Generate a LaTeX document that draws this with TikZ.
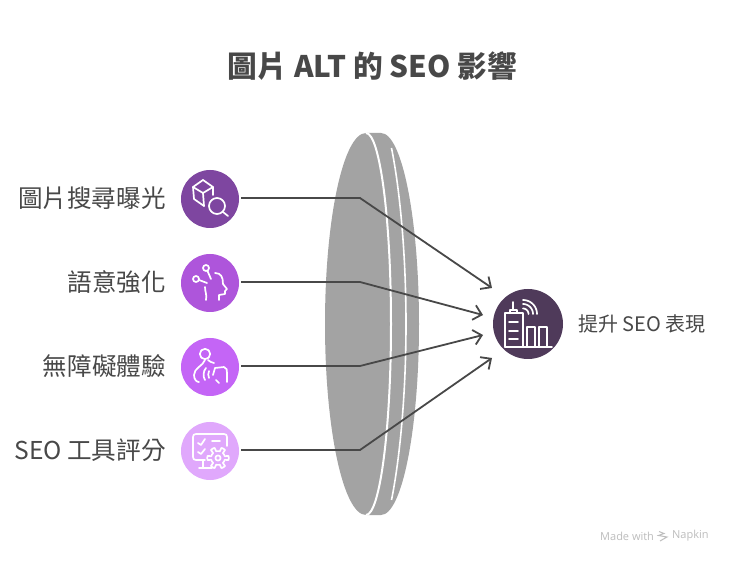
\documentclass[tikz,border=0pt]{standalone}
\usepackage{fontspec}
\setmainfont{Noto Sans CJK TC}
\newfontfamily\wmfont{Open Sans}
\usetikzlibrary{arrows.meta}
\definecolor{ink}{HTML}{484848}
\definecolor{disc}{HTML}{A3A3A3}
\definecolor{cA}{HTML}{7E46A0}
\definecolor{cB}{HTML}{AE55DB}
\definecolor{cC}{HTML}{C465F6}
\definecolor{cD}{HTML}{E0A8FC}
\definecolor{hubc}{HTML}{4F3A5A}
\definecolor{wm}{HTML}{BDBDBD}
\tikzset{
  badge/.style={circle,inner sep=0pt,minimum size=58pt,fill=#1},
  label/.style={text=ink,anchor=east,inner sep=0pt,font=\fontsize{24.6}{27}\selectfont},
  conn/.style={draw=ink,line width=1.8pt,-{Straight Barb[length=8pt,width=15pt,line width=1.8pt]}},
  icon/.style={draw=white,line width=1.7pt,line cap=round,line join=round},
}
\begin{document}
\begin{tikzpicture}[x=1pt,y=-1pt]
\useasboundingbox[fill=white] (0,0) rectangle (732,564);
% title
\node[text=ink,font=\fontsize{29.7}{33}\selectfont\bfseries,inner sep=0pt] (title) at (372.5,66) {圖片 ALT 的 SEO 影響};
% disc
\fill[disc] (366,133) .. controls (343.4,133) and (325,218.5) .. (325,324)
  .. controls (325,429.5) and (343.4,515) .. (366,515) -- (381,515)
  .. controls (402,515) and (419,429.5) .. (419,324)
  .. controls (419,218.5) and (402,133) .. (381,133) -- cycle;
\draw[white,line width=2pt] (366,133) .. controls (379.8,133) and (391,218.5) .. (391,324)
  .. controls (391,429.5) and (379.8,515) .. (366,515);
\draw[white,line width=1.6pt] (391.5,148) .. controls (400,190) and (406,255) .. (406,324)
  .. controls (406,393) and (400,458) .. (391.5,500);
% badges
\node[badge=cA] (n1) at (210,199) {};
\node[badge=cB] (n2) at (210,283) {};
\node[badge=cC] (n3) at (210,367) {};
\node[badge=cD] (n4) at (210,451) {};
\node[circle,inner sep=0pt,minimum size=70pt,fill=hubc] (hub) at (528,324) {};
% labels
\node[label] (l1) at (166,198) {圖片搜尋曝光};
\node[label] (l2) at (166,282) {語意強化};
\node[label] (l3) at (166,366) {無障礙體驗};
\node[label] (l4) at (166,450) {SEO 工具評分};
\node[text=ink,anchor=west,inner sep=0pt,font=\fontsize{20}{22}\selectfont] (res) at (578,324) {提升 SEO 表現};
% connector points
\coordinate (b1) at (360,198); \coordinate (b2) at (360,282);
\coordinate (b3) at (360,366); \coordinate (b4) at (360,450);
\coordinate (t1) at (492,288); \coordinate (t2) at (483,315);
\coordinate (t3) at (483,335); \coordinate (t4) at (492,358);
\draw[conn] ([shift={(2,-1)}]n1.east) -- (b1) -- (t1);
\draw[conn] ([shift={(2,-1)}]n2.east) -- (b2) -- (t2);
\draw[conn] ([shift={(2,-1)}]n3.east) -- (b3) -- (t3);
\draw[conn] ([shift={(2,-1)}]n4.east) -- (b4) -- (t4);
% icon 1: cube and lens
\begin{scope}[shift={(n1.center)},icon]
  \draw (-7,-19) -- (-17,-12) -- (-16,0) -- (-6,7);
  \draw (-7,-19) -- (3,-12) -- (3,-4);
  \draw (-17,-12) -- (-7,-6) -- (3,-12);
  \draw (-7,-6) -- (-6,7);
  \draw (7,7) circle (8);
  \draw (13,13) -- (18,17);
\end{scope}
% icon 2: head with nodes
\begin{scope}[shift={(n2.center)},icon]
  \draw (-4,-15) circle (3);
  \draw (-14,-4) circle (3);
  \draw (-2.5,-12) -- (1,-4);
  \draw (-11,-3) -- (-3,0);
  \draw (-5,4) .. controls (-5,9) and (-3,11) .. (-4,17);
  \draw (5,-10) .. controls (11,-10) and (13,-6) .. (13,1) -- (17,6) -- (15,8) -- (15,11) -- (9,12) -- (9,17);
\end{scope}
% icon 3: person with hand
\begin{scope}[shift={(n3.center)},icon]
  \draw (-5,-13) circle (5.2);
  \draw (-5,-7) .. controls (-7,-1) and (-16,1) .. (-16,8) .. controls (-16,13) and (-13,15) .. (-11,15);
  \draw (-2,-7) .. controls (-1,-5) and (2,-5) .. (4,-4);
  \draw (-4,1) .. controls (-7,4) and (-7,10) .. (-5,13);
  \draw (-1,4) .. controls (-2,6) and (-2,9) .. (-1,11);
  \draw (3,8) -- (5,1) -- (14,0) .. controls (17,1) and (17,3) .. (17,6) -- (17,15);
  \draw (9,16) -- (6,13);
\end{scope}
% icon 4: monitor with gear
\begin{scope}[shift={(n4.center)},icon]
  \draw (-5,9) -- (-14,9) .. controls (-16,9) and (-17,8) .. (-17,6) -- (-17,-14)
    .. controls (-17,-16) and (-16,-17) .. (-14,-17) -- (14,-17)
    .. controls (16,-17) and (17,-16) .. (17,-14) -- (17,-5);
  \draw (-7,9) -- (-7,17); \draw (-11,17) -- (2,17);
  \draw (-12,-8) -- (-9,-6) -- (-5,-12);
  \draw (-12,1) -- (-9,3) -- (-5,-2);
  \draw (2,-10) -- (10,-10);
  \draw[fill=cD] plot[samples=97,domain=0:360] ({8+(8.8+1.9*(cos(6*\x)>0.3?1:-1))*cos(\x)},{7+(8.8+1.9*(cos(6*\x)>0.3?1:-1))*sin(\x)}) -- cycle;
  \draw (8,7) circle (2.6);
\end{scope}
% hub icon: buildings and signal
\begin{scope}[shift={(hub.center)},icon]
  \draw (-23,23) -- (24,23);
  \draw (-23,23) -- (-23,-11) -- (-5,-11) -- (-5,23);
  \draw (-18,-11) -- (-18,-14) -- (-11,-14) -- (-11,-11);
  \draw (-15,-14) -- (-15,-22);
  \draw (-19,-2) -- (-10,-2); \draw (-19,7) -- (-10,7); \draw (-19,15) -- (-10,15);
  \draw (-1,23) -- (-1,3) -- (7,3) -- (7,23);
  \draw (11,23) -- (11,3) -- (19,3) -- (19,23);
  \draw plot[domain=0:90,samples=12] ({-5+14*cos(\x)},{-10-14*sin(\x)});
  \draw plot[domain=0:90,samples=12] ({-5+10*cos(\x)},{-10-10*sin(\x)});
  \draw plot[domain=0:90,samples=12] ({-5+5.5*cos(\x)},{-10-5.5*sin(\x)});
\end{scope}
% watermark
\node[text=wm,anchor=west,inner sep=0pt,font=\wmfont\fontsize{11}{12}\selectfont] (wm1) at (600,536) {Made with};
\node[text=wm,anchor=west,inner sep=0pt,font=\wmfont\fontsize{11}{12}\selectfont] (wm2) at (672,536) {Napkin};
\draw[wm,line width=1pt] (659,531.5) -- (664,533.5) -- (658.5,535.5) -- (667,537) -- (660,541);
\end{tikzpicture}
\end{document}
